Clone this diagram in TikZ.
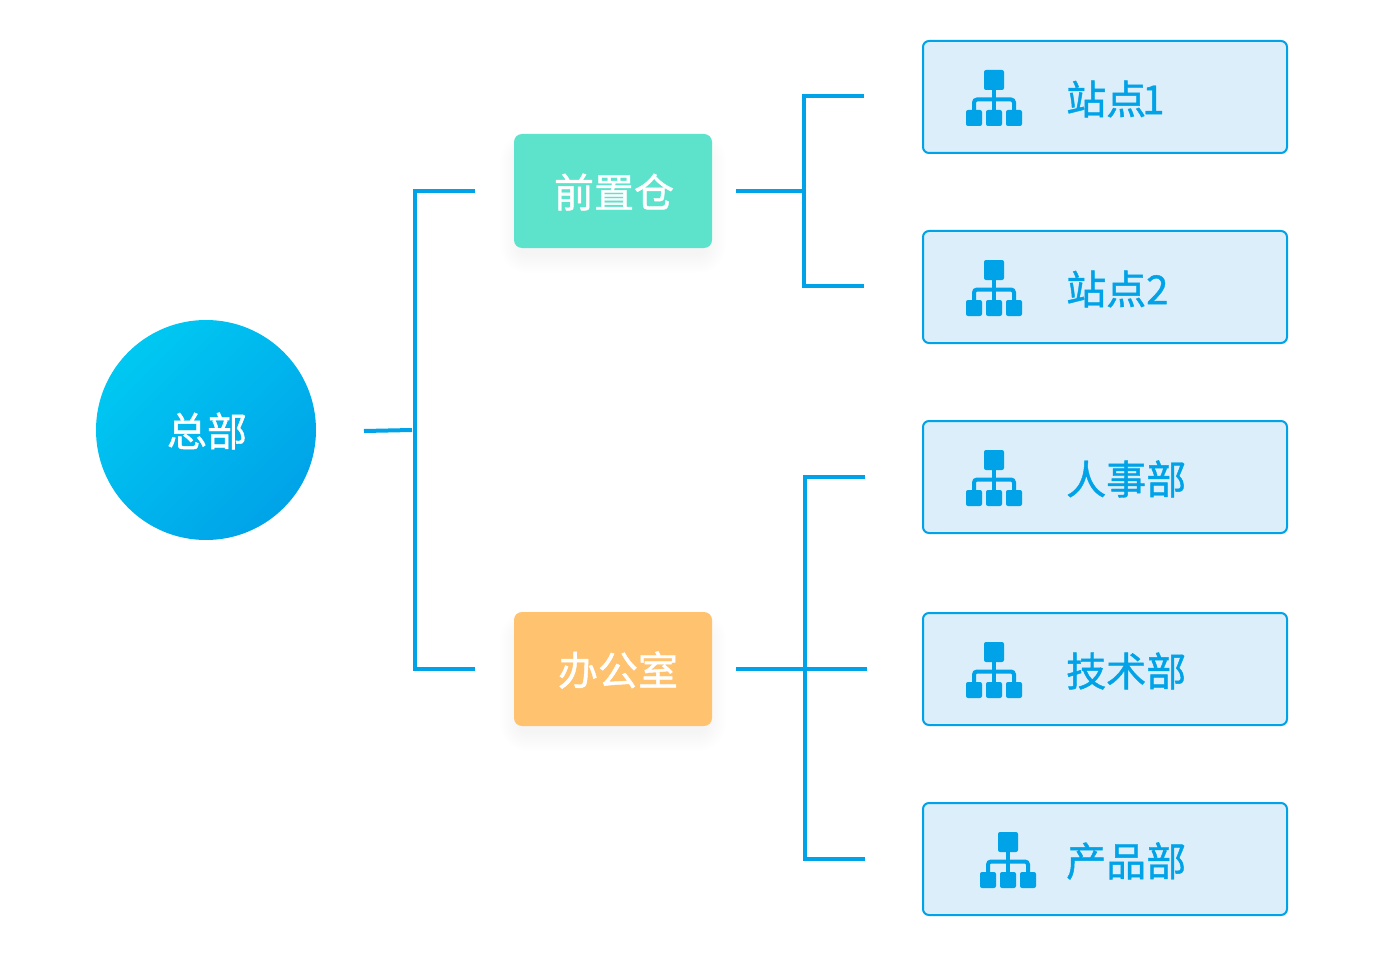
\documentclass[tikz,border=0pt]{standalone}
\usepackage{fontspec}
\setmainfont[FakeBold=1.1]{Noto Sans CJK SC}
\definecolor{lineblue}{HTML}{00A3E8}
\definecolor{boxblue}{HTML}{DCEEFA}
\definecolor{wareteal}{HTML}{5DE3CC}
\definecolor{officeamber}{HTML}{FFC26E}
\definecolor{hqlight}{HTML}{00C8F2}
\definecolor{hqdark}{HTML}{00A3E8}
\tikzset{
  bigtext/.style={font=\fontsize{40}{48}\selectfont},
  link/.style={draw=lineblue, line width=4pt},
  sitebox/.style={draw=lineblue, line width=2pt, fill=boxblue, rounded corners=6pt,
    minimum width=364pt, minimum height=112pt, inner sep=0pt},
  groupbox/.style={rounded corners=8pt, minimum width=198pt, minimum height=114pt, inner sep=0pt},
  sitetext/.style={bigtext, text=lineblue, anchor=west, inner sep=0pt},
  grouptext/.style={bigtext, text=white, inner sep=0pt},
  orgicon/.pic={
    \fill[lineblue, rounded corners=2pt] (-10,-28) rectangle (10,-8);
    \fill[lineblue, rounded corners=2pt] (-28,12) rectangle (-12,28);
    \fill[lineblue, rounded corners=2pt] (-8,12) rectangle (8,28);
    \fill[lineblue, rounded corners=2pt] (12,12) rectangle (28,28);
    \draw[lineblue, line width=4pt] (0,-8) -- (0,12);
    \draw[lineblue, line width=4pt, rounded corners=3pt] (-20,12) -- (-20,1.5) -- (20,1.5) -- (20,12);
  }
}
\begin{document}
\begin{tikzpicture}[x=1pt, y=-1pt]
\useasboundingbox (0,0) rectangle (1392,960);

% soft shadows under the two group boxes
\foreach \cy in {203,681}{
  \foreach \grow in {2,4,...,20}{
    \fill[black, opacity=0.003, rounded corners=8pt+\grow]
      (520-\grow,\cy-50-\grow) rectangle (706+\grow,\cy+50+\grow);
  }
}

\node [circle, minimum size=220pt, inner sep=0pt, left color=hqlight, right color=hqdark,
  shading angle=45] (HQ) at (206,430){};
\node [grouptext] (HQT) at (207,431){总部};

\node [groupbox, fill=wareteal] (Ware) at (613,191){};
\node [grouptext] (WareT) at (614,192){前置仓};
\node [groupbox, fill=officeamber] (Office) at (613,669){};
\node [grouptext] (OfficeT) at (618,670){办公室};

\node [sitebox] (S1) at (1105,97){};
\node [sitebox] (S2) at (1105,287){};
\node [sitebox] (D1) at (1105,477){};
\node [sitebox] (D2) at (1105,669){};
\node [sitebox] (D3) at (1105,859){};

\pic (I1) at (994,98) {orgicon};
\pic (I2) at (994,288) {orgicon};
\pic (I3) at (994,478) {orgicon};
\pic (I4) at (994,670) {orgicon};
\pic (I5) at (1008,860) {orgicon};

\node [sitetext] (S1T) at (1066,99){站点\kern-4pt 1};
\node [sitetext] (S2T) at (1066,289){站点2};
\node [sitetext] (D1T) at (1066,479){人事部};
\node [sitetext] (D2T) at (1066,671){技术部};
\node [sitetext] (D3T) at (1066,861){产品部};

% free ends of the brackets
\coordinate (HQout) at (364,431);
\coordinate (HQbar) at (412,430);
\coordinate (WareIn) at (475,191);
\coordinate (OfficeIn) at (475,669);
\coordinate (WareOut) at (736,191);
\coordinate (WareBar) at (804,191);
\coordinate (S1In) at (864,96);
\coordinate (S2In) at (864,286);
\coordinate (OfficeOut) at (736,669);
\coordinate (D1In) at (865,477);
\coordinate (D2In) at (867,669);
\coordinate (D3In) at (865,859);

\draw[link] (HQout) -- (HQbar);
\draw[link] (WareIn) -| (415,669) -- (OfficeIn);
\draw[link] (WareOut) -- (WareBar);
\draw[link] (S1In) -| (804,286) -- (S2In);
\draw[link] (OfficeOut) -- (D2In);
\draw[link] (D1In) -| (805,859) -- (D3In);
\end{tikzpicture}
\end{document}
